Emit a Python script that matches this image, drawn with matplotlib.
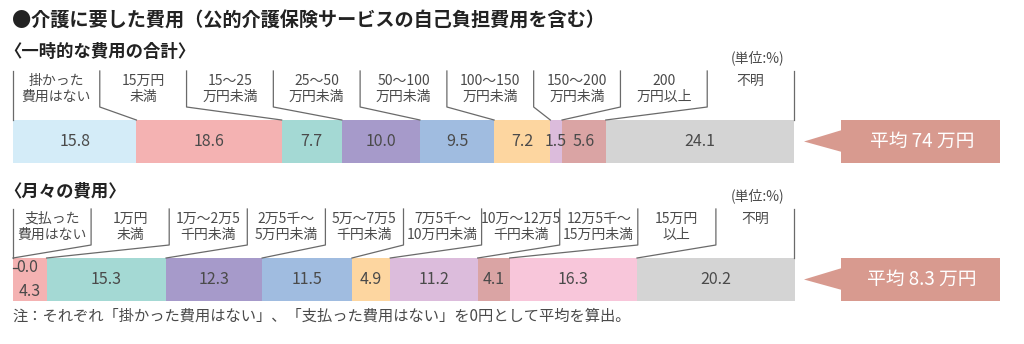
import matplotlib
matplotlib.use('Agg')  # no display in the build environment

import matplotlib.pyplot as plt
from matplotlib.patches import Polygon, Rectangle
import numpy as np

plt.rcParams['font.family'] = ['Noto Sans CJK JP', 'DejaVu Sans']

# 一時的な費用の合計
lump_labels = ['掛かった\n費用はない', '15万円\n未満', '15〜25\n万円未満', '25〜50\n万円未満',
               '50〜100\n万円未満', '100〜150\n万円未満', '150〜200\n万円未満', '200\n万円以上', '不明']
lump_values = [15.8, 18.6, 7.7, 10.0, 9.5, 7.2, 1.5, 5.6, 24.1]
lump_avg = '平均 74 万円'

# 月々の費用
monthly_labels = ['支払った\n費用はない', '1万円\n未満', '1万〜2万5\n千円未満', '2万5千〜\n5万円未満',
                  '5万〜7万5\n千円未満', '7万5千〜\n10万円未満', '10万〜12万5\n千円未満',
                  '12万5千〜\n15万円未満', '15万円\n以上', '不明']
monthly_values = [0.0, 4.3, 15.3, 12.3, 11.5, 4.9, 11.2, 4.1, 16.3, 20.2]
monthly_avg = '平均 8.3 万円'

LIGHTBLUE, PINK, TEAL, PURPLE = '#d4ecf8', '#f4b2b2', '#a4d9d4', '#a69aca'
BLUE, ORANGE, LAVENDER, ROSE = '#a0bce0', '#fdd6a0', '#dcbcdc', '#daa4a4'
PINK2, GRAY = '#f8c6da', '#d4d4d4'
lump_colors = [LIGHTBLUE, PINK, TEAL, PURPLE, BLUE, ORANGE, LAVENDER, ROSE, GRAY]
monthly_colors = [LIGHTBLUE, PINK, TEAL, PURPLE, BLUE, ORANGE, LAVENDER, ROSE, PINK2, GRAY]

CALLOUT = '#d89a8f'
LINE = '#6a6a6a'
TEXT = '#4a4a4a'

# page is laid out in pixels; x runs in percent across the bar
W, H = 1024, 344
X0, PX = 13, 7.81   # bar left edge (px) and px per percent


def px(x):
    return (x - X0) / PX


fig = plt.figure(figsize=(W / 100, H / 100), dpi=100)
ax = fig.add_axes([0, 0, 1, 1])
ax.set_xlim(px(0), px(W))
ax.set_ylim(H, 0)
ax.axis('off')


def draw_panel(labels, values, colors, avg, top):
    n = len(values)
    cols = np.linspace(0, 100, n + 1)
    cum = np.concatenate([[0], np.cumsum(values)])
    bar_top, bar_h = top + 49, 43
    yc = bar_top + bar_h / 2

    ax.barh(yc, values, left=cum[:-1], height=bar_h, color=colors, linewidth=0)

    # category captions with bracket leaders down to each segment edge
    for i, lab in enumerate(labels):
        ax.text((cols[i] + cols[i + 1]) / 2, top + 3, lab, ha='center', va='top',
                fontsize=10, color=TEXT, linespacing=1.2)
    for k in range(n + 1):
        if k == 0 or k == n:
            ax.plot([cols[k], cols[k]], [top, bar_top], color=LINE, lw=0.9)
        else:
            ax.plot([cols[k], cols[k], cum[k]], [top, top + 36, bar_top],
                    color=LINE, lw=0.9)
    ax.text(px(758), top - 13, '(単位:%)', ha='center', va='center',
            fontsize=10, color=TEXT)

    # value labels; an empty segment gets its figure stacked above the next one
    shift_next = False
    for i, v in enumerate(values):
        xc = cum[i] + v / 2
        if v == 0:
            ax.plot([0, 0.45], [bar_top + 10, bar_top + 10], color=TEXT, lw=0.9)
            ax.text(0.4, bar_top + 10, f'{v:.1f}', ha='left', va='center',
                    fontsize=11.5, color=TEXT)
            shift_next = True
            continue
        y = bar_top + 34 if shift_next else yc
        shift_next = False
        ax.text(xc, y, f'{v:.1f}', ha='center', va='center', fontsize=11.5, color=TEXT)

    # average callout
    ax.add_patch(Rectangle((px(841), bar_top), px(1000) - px(841), bar_h,
                           facecolor=CALLOUT, edgecolor='none'))
    ax.add_patch(Polygon([(px(804), yc), (px(842), bar_top + 10), (px(842), bar_top + 32)],
                         closed=True, facecolor=CALLOUT, edgecolor='none'))
    ax.text(px(922), yc, avg, ha='center', va='center', fontsize=13.5, color='white')


ax.text(px(12), 21, '●介護に要した費用（公的介護保険サービスの自己負担費用を含む）',
        ha='left', va='center', fontsize=13.8, fontweight='bold', color='#222222')
ax.text(px(4), 52, '〈一時的な費用の合計〉', ha='left', va='center',
        fontsize=12.5, fontweight='bold', color='#222222')
draw_panel(lump_labels, lump_values, lump_colors, lump_avg, 71)

ax.text(px(4), 191, '〈月々の費用〉', ha='left', va='center',
        fontsize=12.5, fontweight='bold', color='#222222')
draw_panel(monthly_labels, monthly_values, monthly_colors, monthly_avg, 209)

ax.text(px(12), 316, '注：それぞれ「掛かった費用はない」、「支払った費用はない」を0円として平均を算出。',
        ha='left', va='center', fontsize=11, color=TEXT)

fig.savefig('out.png', dpi=100)
plt.close(fig)
